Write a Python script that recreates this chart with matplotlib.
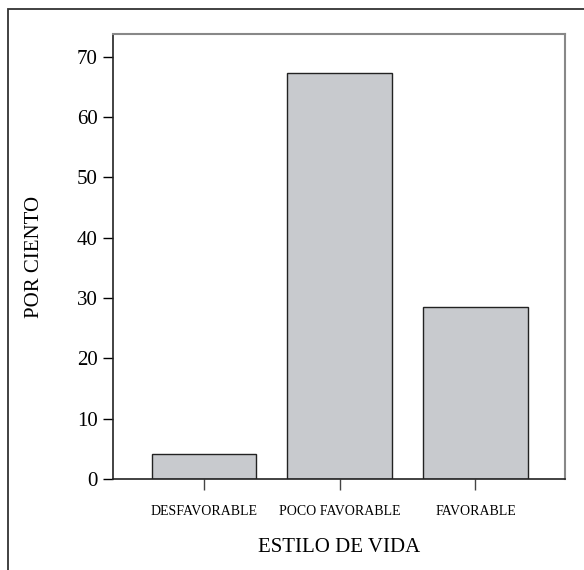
import matplotlib.pyplot as plt
from matplotlib.patches import Rectangle

categorias = ['DESFAVORABLE', 'POCO FAVORABLE', 'FAVORABLE']
por_ciento = [4.1, 67.3, 28.6]
yticks = [0, 10, 20, 30, 40, 50, 60, 70]

plt.rcParams['font.family'] = ['Liberation Serif', 'DejaVu Serif']

fig = plt.figure(figsize=(5.84, 5.70), dpi=100)
ax = fig.add_axes([0.1935, 0.1596, 0.774, 0.7808])

# marco exterior (solo izquierda y arriba se ven)
fig.patches.append(Rectangle((8 / 584, -0.1), 1.2, 1 - 9 / 570 + 0.1,
                             transform=fig.transFigure, fill=False,
                             edgecolor='#333333', linewidth=1.3))

x = range(len(categorias))
ax.bar(x, por_ciento, width=0.77, color='#c8cace', edgecolor='#222222', linewidth=1.0)

ax.set_xlim(-0.67, 2.66)
ax.set_ylim(0, 73.8)
ax.set_yticks(yticks)
ax.set_xticks(list(x))
ax.set_xticklabels(categorias, fontsize=10)
ax.tick_params(axis='y', labelsize=15, length=7, width=1, pad=4, direction='out')
ax.tick_params(axis='x', length=8, width=1, pad=11, direction='out', color='#444444')

for s in ['left', 'bottom']:
    ax.spines[s].set_color('#222222')
    ax.spines[s].set_linewidth(1.2)
for s in ['top', 'right']:
    ax.spines[s].set_color('#888888')
    ax.spines[s].set_linewidth(1.5)

ax.set_xlabel('ESTILO DE VIDA', fontsize=15, labelpad=14)
ax.set_ylabel('POR CIENTO', fontsize=15, labelpad=24)

fig.savefig('out.png', dpi=100)
